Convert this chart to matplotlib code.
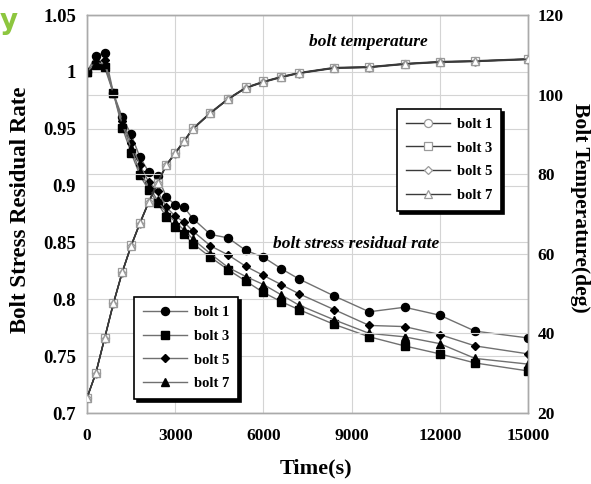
import matplotlib
matplotlib.use("Agg")
import matplotlib.pyplot as plt
from matplotlib.ticker import FuncFormatter

plt.rcParams['font.family'] = ['Liberation Serif', 'DejaVu Serif']
plt.rcParams['font.weight'] = 'bold'

time_s = [0, 300, 600, 900, 1200, 1500, 1800, 2100, 2400, 2700, 3000, 3300, 3600,
          4200, 4800, 5400, 6000, 6600, 7200, 8400, 9600, 10800, 12000, 13200, 15000]

stress_bolt1 = [1.000, 1.014, 1.017, 0.981, 0.960, 0.945, 0.925, 0.912, 0.908, 0.890, 0.883, 0.881, 0.871,
                0.857, 0.854, 0.843, 0.837, 0.827, 0.818, 0.803, 0.789, 0.793, 0.786, 0.772, 0.766]
stress_bolt3 = [1.000, 1.006, 1.004, 0.981, 0.951, 0.929, 0.909, 0.896, 0.885, 0.872, 0.864, 0.857, 0.849,
                0.837, 0.826, 0.816, 0.806, 0.798, 0.791, 0.778, 0.767, 0.759, 0.752, 0.744, 0.737]
stress_bolt5 = [1.000, 1.009, 1.010, 0.981, 0.957, 0.937, 0.918, 0.903, 0.895, 0.881, 0.873, 0.868, 0.860,
                0.847, 0.839, 0.829, 0.821, 0.813, 0.805, 0.791, 0.777, 0.776, 0.769, 0.759, 0.752]
stress_bolt7 = [1.000, 1.008, 1.007, 0.981, 0.954, 0.933, 0.912, 0.899, 0.887, 0.876, 0.868, 0.861, 0.853,
                0.840, 0.828, 0.820, 0.813, 0.804, 0.795, 0.782, 0.770, 0.767, 0.761, 0.748, 0.743]

temp_bolt1 = [23.8, 30.0, 38.8, 47.6, 55.4, 62.0, 67.7, 73.0, 77.8, 82.3, 85.3, 88.3, 91.4,
              95.4, 98.9, 101.7, 103.2, 104.4, 105.4, 106.7, 106.9, 107.7, 108.2, 108.4, 108.9]
temp_bolt3 = [23.8, 30.1, 38.9, 47.7, 55.5, 62.1, 67.8, 73.1, 77.9, 82.4, 85.4, 88.4, 91.5,
              95.5, 99.0, 101.8, 103.3, 104.5, 105.5, 106.8, 107.0, 107.8, 108.3, 108.5, 109.0]
temp_bolt5 = [23.8, 29.9, 38.7, 47.5, 55.3, 61.9, 67.6, 72.9, 77.7, 82.2, 85.2, 88.2, 91.3,
              95.3, 98.8, 101.6, 103.1, 104.3, 105.3, 106.6, 106.8, 107.6, 108.1, 108.3, 108.8]
temp_bolt7 = [23.8, 30.0, 38.8, 47.6, 55.4, 62.0, 67.7, 73.0, 77.8, 82.3, 85.3, 88.3, 91.4,
              95.4, 98.9, 101.7, 103.2, 104.4, 105.4, 106.7, 106.9, 107.7, 108.2, 108.4, 108.9]

labels = ['bolt 1', 'bolt 3', 'bolt 5', 'bolt 7']
x_ticks = [0, 3000, 6000, 9000, 12000, 15000]
left_ticks = [0.7, 0.75, 0.8, 0.85, 0.9, 0.95, 1.0, 1.05]
right_ticks = [20, 40, 60, 80, 100, 120]

W, H = 591, 484
fig = plt.figure(figsize=(W / 100, H / 100), dpi=100)
ax = fig.add_axes([87 / W, 1 - 413 / H, (528 - 87) / W, (413 - 15) / H])
ax2 = ax.twinx()

grid_c = '#d4d4d4'
ax.set_xlim(0, 15000)
ax.set_ylim(0.7, 1.05)
ax2.set_ylim(20, 120)
ax.set_xticks(x_ticks)
ax.set_yticks(left_ticks)
ax2.set_yticks(right_ticks)
ax.grid(True, color=grid_c, linewidth=0.8)
ax2.grid(True, axis='y', color=grid_c, linewidth=0.8)
ax.set_axisbelow(True)
ax2.set_axisbelow(True)

ax.yaxis.set_major_formatter(FuncFormatter(lambda v, p: ('%g' % round(v, 2))))

markers = ['o', 's', 'D', '^']
msizes = [5.8, 5.8, 4.0, 6.0]
stress = [stress_bolt1, stress_bolt3, stress_bolt5, stress_bolt7]
temps = [temp_bolt1, temp_bolt3, temp_bolt5, temp_bolt7]

sh = []
for s, m, ms, lab in zip(stress, markers, msizes, labels):
    h, = ax.plot(time_s, s, color='#707070', linewidth=1.0, marker=m, markersize=ms,
                 markerfacecolor='black', markeredgecolor='black', label=lab, zorder=3)
    sh.append(h)

th = []
for t, m, ms, lab in zip(temps, markers, msizes, labels):
    h, = ax2.plot(time_s, t, color='#3a3a3a', linewidth=1.0, marker=m, markersize=ms,
                  markerfacecolor='white', markeredgecolor='#9a9a9a', markeredgewidth=0.9,
                  label=lab, zorder=3)
    th.append(h)

for a in (ax, ax2):
    for sp in a.spines.values():
        sp.set_color('#aaaaaa')
        sp.set_linewidth(1.0)
    a.tick_params(length=0)

ax.tick_params(axis='x', pad=11, labelsize=12.5)
ax.tick_params(axis='y', pad=8, labelsize=13.5)
ax2.tick_params(axis='y', pad=7, labelsize=12.5)

fig.text(316 / W, 1 - 468 / H, 'Time(s)', fontsize=16, fontweight='bold',
         ha='center', va='center')
fig.text(21 / W, 1 - 210 / H, 'Bolt Stress Residual Rate', fontsize=16.5, fontweight='bold',
         rotation=90, ha='center', va='center')
fig.text(580 / W, 1 - 208 / H, 'Bolt Temperature(deg)', fontsize=15.5, fontweight='bold',
         rotation=-90, ha='center', va='center')

ax.text(0.637, 0.932, 'bolt temperature', transform=ax.transAxes, ha='center', va='center',
        fontsize=12.5, fontstyle='italic', fontweight='bold')
ax.text(0.61, 0.425, 'bolt stress residual rate', transform=ax.transAxes, ha='center', va='center',
        fontsize=12.5, fontstyle='italic', fontweight='bold')

leg_kw = dict(loc='upper left', fancybox=False, shadow={'color': 'black', 'alpha': 1},
              framealpha=1, edgecolor='black', fontsize=10.5, handlelength=3.0,
              borderpad=0.6, labelspacing=0.72, borderaxespad=0, handletextpad=0.5)
leg1 = ax2.legend(sh, labels, bbox_to_anchor=(0.107, 0.291), **leg_kw)
leg1.get_frame().set_linewidth(1.2)
ax2.add_artist(leg1)
leg2 = ax2.legend(th, labels, bbox_to_anchor=(0.703, 0.764), **leg_kw)
leg2.get_frame().set_linewidth(1.2)

fig.text(0.0, 0.985, 'y', color='#8dc63f', fontsize=20, fontweight='bold',
         family=['DejaVu Sans'], ha='left', va='top')

fig.savefig('out.png', dpi=100)
